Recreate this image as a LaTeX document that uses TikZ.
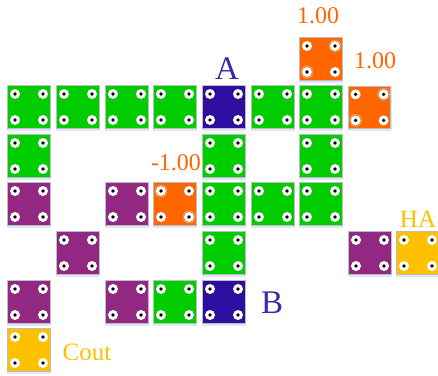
\documentclass[tikz,border=0pt]{standalone}
\usepackage{fontspec}
\setmainfont{Liberation Serif}
\usetikzlibrary{calc}
\definecolor{tilegreen}{RGB}{0,204,0}
\definecolor{tileblue}{RGB}{46,14,158}
\definecolor{tilepurple}{RGB}{146,40,130}
\definecolor{tileorange}{RGB}{255,102,0}
\definecolor{tileyellow}{RGB}{255,192,0}
\definecolor{tileedge}{RGB}{185,190,195}
\definecolor{tilering}{RGB}{225,170,120}
\definecolor{tileshadow}{RGB}{222,232,245}
\tikzset{
    % Basic tile style
    tile/.style={
        rectangle, draw=tileedge, line width=1pt,
        minimum size=42.5pt, inner sep=0pt,
        preaction={draw=tileshadow, line width=1.5pt, fill=tileshadow, transform canvas={yshift=-1.5pt}}
    },
    % Colored variants
    greentile/.style={tile, fill=tilegreen},
    bluetile/.style={tile, fill=tileblue},
    purpletile/.style={tile, fill=tilepurple},
    orangetile/.style={tile, fill=tileorange},
    yellowtile/.style={tile, fill=tileyellow},
    % Holes in a tile
    hole/.style={circle, fill=white, minimum size=10pt, inner sep=0pt},
    holedot/.style={circle, fill=black, minimum size=3.6pt, inner sep=0pt},
    ringline/.style={circle, draw=tilering, line width=0.7pt, minimum size=12pt, inner sep=0pt},
    % Labels
    bluelabel/.style={font=\fontsize{33}{33}\selectfont, text=tileblue!90!white},
    orangelabel/.style={font=\fontsize{24}{24}\selectfont, text=tileorange},
    yellowlabel/.style={font=\fontsize{25}{25}\selectfont, text=tileyellow},
}
\begin{document}
\begin{tikzpicture}[x=1pt,y=-1pt]
  \useasboundingbox (0,0) rectangle (438,375);
  % tiles: column/row
  \foreach \c/\r/\x/\y/\k in {
      6/0/321/59/orangetile,
      0/1/29/107/greentile, 1/1/78/107/greentile, 2/1/127/107/greentile, 3/1/175/107/greentile,
      4/1/224/107/bluetile, 5/1/273/107/greentile, 6/1/321/107/greentile, 7/1/369.6/107.4/orangetile,
      0/2/29/156/greentile, 4/2/224/156/greentile, 6/2/321/156/greentile,
      0/3/29/204/purpletile, 2/3/127/204/purpletile, 3/3/175/204/orangetile,
      4/3/224/204/greentile, 5/3/273/204/greentile, 6/3/321/204/greentile,
      1/4/78/253/purpletile, 4/4/224/253/greentile, 7/4/370/253/purpletile, 8/4/418/253/yellowtile,
      0/5/29/302/purpletile, 2/5/127/302/purpletile, 3/5/175/302/greentile, 4/5/224/302/bluetile,
      0/6/29/350/yellowtile}
    \node[\k] (tile\c\r) at (\x,\y) {};
  % holes
  \foreach \n in {01,11,21,31,41,51,61,71,60,02,42,62,03,23,33,43,53,63,14,44,74,84,05,25,35,45,06}
    \foreach \m/\dx/\dy in {a/-14/-13,b/14/-13,c/-14/13,d/14/13}{
      \node[hole] (hole\n\m) at ($(tile\n)+(\dx,\dy)$) {};
      \node[holedot] (dot\n\m) at (hole\n\m) {};
    }
  % rings round the holes of the orange tiles
  \foreach \h in {60b,60c,71b,71c,33a,33d}
    \node[ringline] (ring\h) at (hole\h) {};
  % labels
  \node[bluelabel] (A) at (227,69) {A};
  \node[bluelabel] (B) at (272,303) {B};
  \node[orangelabel] (topval) at (318,16) {1.00};
  \node[orangelabel] (rightval) at (375,61) {1.00};
  \node[orangelabel] (negval) at (176,163) {-1.00};
  \node[yellowlabel] (HA) at (418,219) {HA};
  \node[yellowlabel] (Cout) at (87,352) {Cout};
\end{tikzpicture}
\end{document}
